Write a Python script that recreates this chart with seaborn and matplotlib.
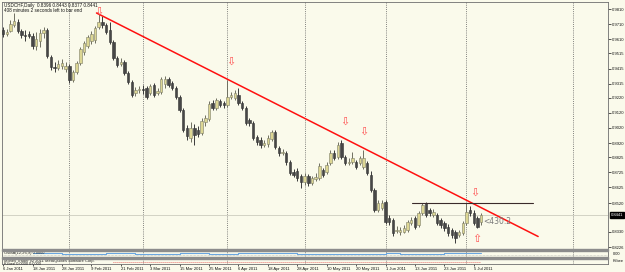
import matplotlib
matplotlib.use("Agg")
import matplotlib.pyplot as plt
import matplotlib.transforms as mtransforms
from matplotlib.patches import Rectangle
import numpy as np
import pandas as pd
import seaborn as sns

# ---------------- data (USDCHF daily) ----------------
dates = pd.bdate_range("2011-01-06", "2011-07-07")

opens = [
    0.9671, 0.9645, 0.9664, 0.9704, 0.9724, 0.9664, 0.9638, 0.9645, 0.9631, 0.9565,
    0.9598, 0.9651, 0.9671, 0.9492, 0.9426, 0.9419, 0.9432, 0.9413, 0.9432, 0.9340,
    0.9393, 0.9452, 0.9525, 0.9565, 0.9598, 0.9605, 0.9691, 0.9724, 0.9704, 0.9671,
    0.9592, 0.9485, 0.9446, 0.9459, 0.9386, 0.9326, 0.9253, 0.9273, 0.9280, 0.9287,
    0.9253, 0.9306, 0.9253, 0.9260, 0.9313, 0.9346, 0.9319, 0.9287, 0.9227, 0.9141,
    0.9021, 0.8955, 0.9021, 0.9008, 0.8988, 0.9061, 0.9081, 0.9187, 0.9154, 0.9200,
    0.9187, 0.9174, 0.9227, 0.9220, 0.9240, 0.9187, 0.9154, 0.9074, 0.9054, 0.8962,
    0.8942, 0.8909, 0.8915, 0.8948, 0.8995, 0.8889, 0.8856, 0.8856, 0.8796, 0.8730,
    0.8736, 0.8703, 0.8663, 0.8703, 0.8657, 0.8683, 0.8690, 0.8743, 0.8730, 0.8789,
    0.8856, 0.8829, 0.8922, 0.8829, 0.8789, 0.8796, 0.8796, 0.8789, 0.8763, 0.8789,
    0.8710, 0.8610, 0.8478, 0.8491, 0.8531, 0.8425, 0.8411, 0.8338, 0.8332, 0.8332,
    0.8345, 0.8392, 0.8425, 0.8378, 0.8458, 0.8524, 0.8478, 0.8445, 0.8445, 0.8411,
    0.8392, 0.8365, 0.8345, 0.8332, 0.8312, 0.8325, 0.8392, 0.8478, 0.8458, 0.8425,
    0.8396,
]
highs = [
    0.9691, 0.9678, 0.9737, 0.9784, 0.9744, 0.9678, 0.9671, 0.9664, 0.9651, 0.9658,
    0.9678, 0.9691, 0.9684, 0.9505, 0.9459, 0.9472, 0.9479, 0.9459, 0.9446, 0.9406,
    0.9466, 0.9558, 0.9598, 0.9638, 0.9664, 0.9698, 0.9777, 0.9764, 0.9718, 0.9724,
    0.9605, 0.9499, 0.9485, 0.9472, 0.9399, 0.9340, 0.9293, 0.9300, 0.9306, 0.9300,
    0.9313, 0.9319, 0.9287, 0.9359, 0.9366, 0.9359, 0.9333, 0.9300, 0.9240, 0.9154,
    0.9041, 0.9061, 0.9048, 0.9034, 0.9088, 0.9108, 0.9200, 0.9207, 0.9220, 0.9214,
    0.9200, 0.9340, 0.9260, 0.9273, 0.9287, 0.9200, 0.9167, 0.9088, 0.9068, 0.8975,
    0.8962, 0.8942, 0.8975, 0.9008, 0.9008, 0.8902, 0.8882, 0.8869, 0.8809, 0.8750,
    0.8756, 0.8716, 0.8723, 0.8716, 0.8703, 0.8723, 0.8789, 0.8756, 0.8796, 0.8876,
    0.8876, 0.8928, 0.8942, 0.8842, 0.8822, 0.8862, 0.8809, 0.8836, 0.8876, 0.8803,
    0.8736, 0.8624, 0.8544, 0.8544, 0.8544, 0.8445, 0.8425, 0.8372, 0.8365, 0.8378,
    0.8411, 0.8431, 0.8438, 0.8471, 0.8524, 0.8531, 0.8491, 0.8484, 0.8458, 0.8425,
    0.8405, 0.8385, 0.8358, 0.8345, 0.8345, 0.8405, 0.8524, 0.8504, 0.8478, 0.8438,
    0.8453,
]
lows = [
    0.9625, 0.9631, 0.9658, 0.9691, 0.9651, 0.9618, 0.9598, 0.9618, 0.9545, 0.9539,
    0.9558, 0.9618, 0.9485, 0.9406, 0.9393, 0.9406, 0.9413, 0.9393, 0.9319, 0.9326,
    0.9379, 0.9439, 0.9505, 0.9552, 0.9578, 0.9585, 0.9678, 0.9684, 0.9645, 0.9578,
    0.9472, 0.9426, 0.9432, 0.9373, 0.9313, 0.9227, 0.9233, 0.9253, 0.9247, 0.9214,
    0.9240, 0.9227, 0.9240, 0.9247, 0.9287, 0.9293, 0.9273, 0.9214, 0.9127, 0.8995,
    0.8942, 0.8928, 0.8909, 0.8962, 0.8975, 0.9034, 0.9068, 0.9141, 0.9141, 0.9160,
    0.9154, 0.9160, 0.9214, 0.9207, 0.9174, 0.9141, 0.9041, 0.9034, 0.8942, 0.8909,
    0.8889, 0.8895, 0.8895, 0.8935, 0.8882, 0.8836, 0.8842, 0.8776, 0.8710, 0.8697,
    0.8670, 0.8624, 0.8643, 0.8637, 0.8643, 0.8670, 0.8677, 0.8697, 0.8716, 0.8776,
    0.8809, 0.8816, 0.8816, 0.8776, 0.8776, 0.8783, 0.8750, 0.8776, 0.8750, 0.8710,
    0.8597, 0.8464, 0.8464, 0.8478, 0.8385, 0.8378, 0.8305, 0.8319, 0.8312, 0.8319,
    0.8332, 0.8378, 0.8352, 0.8365, 0.8445, 0.8431, 0.8438, 0.8431, 0.8378, 0.8358,
    0.8338, 0.8305, 0.8292, 0.8259, 0.8299, 0.8312, 0.8378, 0.8438, 0.8378, 0.8358,
    0.8377,
]
closes = [
    0.9645, 0.9658, 0.9711, 0.9731, 0.9664, 0.9638, 0.9631, 0.9631, 0.9565, 0.9611,
    0.9651, 0.9671, 0.9499, 0.9426, 0.9419, 0.9446, 0.9452, 0.9432, 0.9340, 0.9393,
    0.9452, 0.9545, 0.9585, 0.9625, 0.9645, 0.9684, 0.9724, 0.9704, 0.9658, 0.9592,
    0.9485, 0.9439, 0.9459, 0.9386, 0.9326, 0.9240, 0.9273, 0.9280, 0.9273, 0.9227,
    0.9300, 0.9240, 0.9267, 0.9346, 0.9346, 0.9306, 0.9287, 0.9227, 0.9141, 0.9008,
    0.8968, 0.9021, 0.8975, 0.8981, 0.9068, 0.9088, 0.9180, 0.9154, 0.9207, 0.9174,
    0.9174, 0.9227, 0.9240, 0.9253, 0.9187, 0.9154, 0.9054, 0.9054, 0.8955, 0.8928,
    0.8909, 0.8922, 0.8955, 0.8995, 0.8895, 0.8856, 0.8862, 0.8796, 0.8723, 0.8710,
    0.8690, 0.8663, 0.8703, 0.8657, 0.8690, 0.8697, 0.8769, 0.8710, 0.8776, 0.8856,
    0.8822, 0.8909, 0.8829, 0.8789, 0.8796, 0.8822, 0.8763, 0.8822, 0.8822, 0.8723,
    0.8610, 0.8478, 0.8524, 0.8524, 0.8398, 0.8398, 0.8325, 0.8345, 0.8345, 0.8358,
    0.8398, 0.8411, 0.8365, 0.8458, 0.8511, 0.8445, 0.8458, 0.8464, 0.8392, 0.8378,
    0.8358, 0.8325, 0.8312, 0.8292, 0.8332, 0.8392, 0.8464, 0.8458, 0.8392, 0.8365,
    0.8441,
]

price_ticks = [0.9810, 0.9710, 0.9610, 0.9515, 0.9415, 0.9315, 0.9220, 0.9120,
               0.9020, 0.8920, 0.8825, 0.8725, 0.8625, 0.8520, 0.8330, 0.8226]
price_tick_labels = ["0.9810", "0.9710", "0.9610", "0.9515", "0.9415", "0.9315",
                     "0.9220", "0.9120", "0.9020", "0.8920", "0.8825", "0.8725",
                     "0.8625", "0.8520", "0.8330", "0.8226"]
date_tick_bars = [0, 8, 16, 24, 32, 40, 48, 56, 64, 72, 80, 88, 96, 104, 112, 120, 128]
date_tick_labels = ["6 Jan 2011", "18 Jan 2011", "28 Jan 2011", "9 Feb 2011",
                    "21 Feb 2011", "3 Mar 2011", "15 Mar 2011", "25 Mar 2011",
                    "6 Apr 2011", "18 Apr 2011", "28 Apr 2011", "10 May 2011",
                    "20 May 2011", "1 Jun 2011", "13 Jun 2011", "23 Jun 2011",
                    "5 Jul 2011"]
extra_separator_bars = [155]

# drawn objects (bar position, price)
trend_bars = [25.4, 145.5]
trend_prices = [0.9784, 0.8299]
hline_bars = [111.2, 144.1]
hline_prices = [0.8524, 0.8524]
label_430_bar, label_430_price = 130.7, 0.8398
down_arrow_bars = [26.0, 62.0, 92.9, 98.0, 128.3]
down_arrow_prices = [0.9792, 0.9461, 0.9063, 0.8997, 0.8592]
up_arrow_bars = [128.9]
up_arrow_prices = [0.8283]
last_price = 0.8441

# indicator panes
blue_bars = [8, 12, 16, 20, 24, 28, 32, 36, 40, 44, 48, 52, 56, 60, 64, 68,
             72, 76, 80, 84, 88, 92, 96, 100, 104, 108, 112, 116, 120, 124, 128, 130]
blue_vals = [0.62, 0.62, 0.50, 0.50, 0.50, 0.62, 0.60, 0.50, 0.48, 0.50, 0.60, 0.55,
             0.50, 0.50, 0.62, 0.64, 0.63, 0.55, 0.50, 0.50, 0.45, 0.50, 0.50, 0.52,
             0.55, 0.50, 0.48, 0.50, 0.55, 0.58, 0.62, 0.66]
red_bars = [30, 130]
red_vals = [0.30, 0.30]

# ---------------- style ----------------
sns.set_style("white")
BG = "#FAFAEB"
FRAME = "#6e6e6e"
plt.rcParams["font.family"] = ["Liberation Sans", "DejaVu Sans"]
SMALL = 3.0

W, H = 625.0, 272.0
fig = plt.figure(figsize=(6.25, 2.72), dpi=100)
fig.patch.set_facecolor(BG)


def box(t, b, l=2, r=608):
    return [l / W, 1 - b / H, (r - l) / W, (b - t) / H]


ax = fig.add_axes(box(2, 249))
ax1 = fig.add_axes(box(251, 256.5))
ax2 = fig.add_axes(box(258.5, 264))

XMIN, XMAX = -0.3, 164.5
for a in (ax, ax1, ax2):
    a.set_facecolor(BG)
    a.set_xlim(XMIN, XMAX)
    for s in a.spines.values():
        s.set_color(FRAME)
        s.set_linewidth(0.6)
    a.tick_params(left=False, labelleft=False)

# gray separator bands between panes
for t, b in ((249, 251), (256.5, 258.5)):
    fig.patches.append(Rectangle((2 / W, 1 - b / H), 606 / W, (b - t) / H,
                                 transform=fig.transFigure, color="#8c8c8c", zorder=5))

df = pd.DataFrame({"bar": np.arange(len(closes)), "date": dates[:len(closes)],
                   "open": opens, "high": highs, "low": lows, "close": closes})
df["bull"] = df["close"] >= df["open"]
df["lo"] = df[["open", "close"]].min(axis=1)
df["h"] = (df["close"] - df["open"]).abs().clip(lower=0.00035)

# month separators
month_start = df.groupby(df["date"].dt.month)["bar"].min().tolist()[1:]
for a in (ax, ax1, ax2):
    for b in month_start + extra_separator_bars:
        a.axvline(b, color="#5a5a5a", lw=0.55, ls=(0, (1.2, 1.6)), zorder=1)

# current price line
ax.axhline(last_price, color="#d2d2c4", lw=0.7, zorder=1)

# candles
bull = df[df["bull"]]
bear = df[~df["bull"]]
ax.vlines(bull["bar"], bull["low"], bull["high"], color="#6f6f60", lw=0.7, zorder=2)
ax.vlines(bear["bar"], bear["low"], bear["high"], color="#3a3a3a", lw=0.7, zorder=2)
ax.bar(bull["bar"], bull["h"], bottom=bull["lo"], width=0.66, color="#DCD693",
       edgecolor="#7d7d68", linewidth=0.4, zorder=3)
ax.bar(bear["bar"], bear["h"], bottom=bear["lo"], width=0.66, color="#474747",
       edgecolor="#333333", linewidth=0.4, zorder=3)

# trend line and horizontal line
tl = pd.DataFrame({"bar": trend_bars, "price": trend_prices})
sns.lineplot(data=tl, x="bar", y="price", ax=ax, color="#FF1010", lw=1.1, zorder=4)
hl = pd.DataFrame({"bar": hline_bars, "price": hline_prices})
sns.lineplot(data=hl, x="bar", y="price", ax=ax, color="#3a2a2a", lw=0.8, zorder=4)

ax.text(label_430_bar, label_430_price, "<430.2", fontsize=5.5, color="#7a7a7a",
        ha="left", va="center", family="DejaVu Sans", zorder=5)

for b, p in zip(down_arrow_bars, down_arrow_prices):
    ax.text(b, p, "\u21e9", fontsize=8, color="#FF5050", ha="center", va="center",
            family="DejaVu Sans", zorder=6)
for b, p in zip(up_arrow_bars, up_arrow_prices):
    ax.text(b, p, "\u21e7", fontsize=8, color="#FF5050", ha="center", va="center",
            family="DejaVu Sans", zorder=6)

ax.set_ylim(0.8216, 0.9857)
ax.yaxis.tick_right()
ax.set_yticks(price_ticks)
ax.set_yticklabels(price_tick_labels)
ax.tick_params(axis="y", right=True, labelright=True, direction="out", length=2,
               width=0.5, pad=0.6, labelsize=SMALL, colors="#111111")
ax.tick_params(axis="x", bottom=False, labelbottom=False)
ax.set_xlabel("")
ax.set_ylabel("")

trans = mtransforms.blended_transform_factory(ax.transAxes, ax.transData)
ax.annotate("0.8441", xy=(1.0, last_price), xycoords=trans, xytext=(2.0, 0),
            textcoords="offset points", va="center", ha="left", color="white",
            fontsize=SMALL, annotation_clip=False,
            bbox=dict(boxstyle="square,pad=0.2", fc="black", ec="black"))

ax.text(0.004, 0.996, "USDCHF,Daily  0.8396 0.8443 0.8377 0.8441", transform=ax.transAxes,
        fontsize=3.3, va="top", ha="left", color="#111111")
ax.text(0.004, 0.974, "408 minutes 2 seconds left to bar end", transform=ax.transAxes,
        fontsize=3.3, va="top", ha="left", color="#111111")

# indicator pane 1
ax1.set_ylim(0, 1)
bl = pd.DataFrame({"bar": blue_bars, "v": blue_vals})
sns.lineplot(data=bl, x="bar", y="v", ax=ax1, color="#6AA6E0", lw=0.8, drawstyle="steps-post")
ax1.axhline(0.3, color="#9a9a9a", lw=0.4, ls=(0, (1, 1.5)))
ax1.text(0.003, 0.98, "OsMA(12,26,9) 0.0000", transform=ax1.transAxes, fontsize=2.9,
         va="top", ha="left", color="#222222")
ax1.set_xlabel(""); ax1.set_ylabel("")
ax1.tick_params(bottom=False, labelbottom=False)
ax1.text(1.008, 0.5, "0.00", transform=ax1.transAxes, fontsize=2.9, va="center",
         ha="left", color="#111111")

# indicator pane 2
ax2.set_ylim(0, 1)
rl = pd.DataFrame({"bar": red_bars, "v": red_vals})
sns.lineplot(data=rl, x="bar", y="v", ax=ax2, color="#E04040", lw=0.6, ls=(0, (1, 1.4)))
ax2.text(0.003, 0.98, "Money Trader v2 2011 MetaQuotes Software Corp.", transform=ax2.transAxes,
         fontsize=2.9, va="top", ha="left", color="#222222")
ax2.text(0.003, 0.45, "Kilbee 0.0000 0.0000", transform=ax2.transAxes,
         fontsize=2.9, va="top", ha="left", color="#222222")
ax2.text(1.008, 0.5, "Kilbee", transform=ax2.transAxes, fontsize=2.9, va="center",
         ha="left", color="#111111")
ax2.set_xlabel(""); ax2.set_ylabel("")
ax2.set_xticks(date_tick_bars)
ax2.set_xticklabels(date_tick_labels)
ax2.tick_params(axis="x", bottom=True, labelbottom=True, direction="out", length=1.5,
                width=0.5, pad=1, labelsize=SMALL, colors="#111111")
for lbl in ax2.get_xticklabels():
    lbl.set_ha("left")

fig.savefig("out.png", dpi=100, facecolor=BG)
